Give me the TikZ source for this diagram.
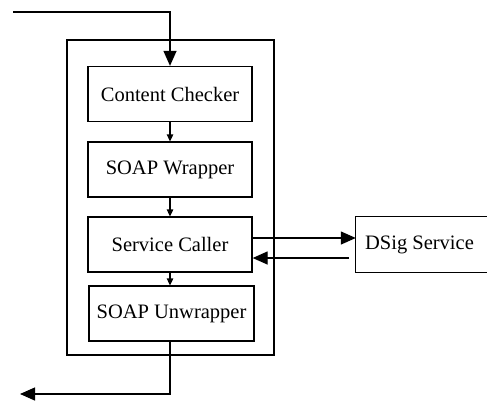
\documentclass[tikz,border=0pt]{standalone}
\usepackage{fontspec}
\setmainfont{Liberation Serif}
\usetikzlibrary{arrows.meta}
\begin{document}
\begin{tikzpicture}[x=1pt,y=-1pt,
  box/.style={draw, line width=1.3pt, minimum width=164pt, minimum height=55pt, inner sep=0pt,
    font=\fontsize{20.5}{24}\selectfont},
  conn/.style={line width=1.3pt},
  bigarrow/.style={conn, -{Triangle[length=15pt,width=13pt]}},
  smallarrow/.style={conn, -{Triangle[length=7pt,width=6.5pt]}}]
\useasboundingbox[fill=white] (0,0) rectangle (487,400);
\node[draw, line width=1.3pt, minimum width=207pt, minimum height=315pt, inner sep=0pt] (outer) at (170.5,197.5) {};
\node[box] (cc) at (170,94) {Content Checker};
\node[box] (sw) at (170,169.5) {SOAP Wrapper};
\node[box] (sc) at (170,244.5) {Service Caller};
\node[box, minimum width=165pt] (su) at (171.5,313.5) {SOAP Unwrapper};
\node[minimum width=131pt, minimum height=55pt, inner sep=0pt, font=\fontsize{20.5}{24}\selectfont] (dsig) at (421.5,244.5) {\hspace*{-4pt}DSig Service};
\draw[line width=1.3pt] (dsig.north east) -- (dsig.north west) -- (dsig.south west) -- (dsig.south east);
\coordinate (in) at (13,12);
\coordinate (out) at (20,394);
\coordinate (ret) at (349,258);
\draw[bigarrow] (in) -| (cc.north);
\draw[smallarrow] (cc.south) -- (sw.north);
\draw[smallarrow] (sw.south) -- (sc.north);
\draw[smallarrow] (sc.south) -- (sc.south |- su.north);
\draw[bigarrow] (sc.south |- su.south) |- (out);
\draw[bigarrow] (sc.east |- 0,238) -- (dsig.west |- 0,238);
\draw[bigarrow] (ret) -- (sc.east |- ret);
\end{tikzpicture}
\end{document}
